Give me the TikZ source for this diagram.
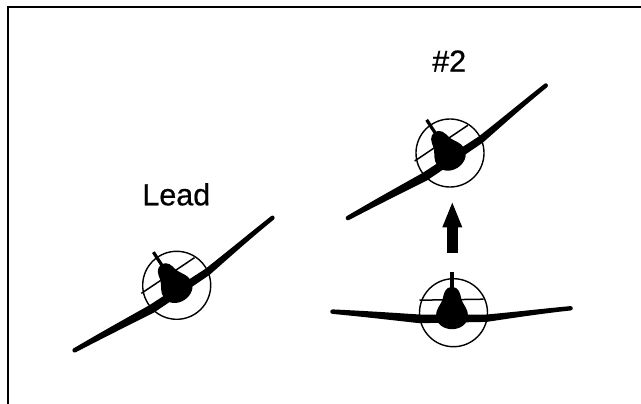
\documentclass[tikz,border=0pt]{standalone}
\usepackage{fontspec}
\newfontfamily\labelfont[FakeBold=0.6]{Liberation Sans}
\usetikzlibrary{arrows.meta}
\begin{document}
\begin{tikzpicture}[x=1pt,y=-1pt,
  ring/.style={line width=1.4pt},
  tailplane/.style={line width=1.5pt},
  fin/.style={line width=3.2pt},
  planelabel/.style={font=\labelfont\fontsize{30.5}{32}\selectfont, anchor=base, inner sep=0pt},
  framelines/.style={line width=2.2pt, line join=miter},
  bigarrow/.style={line width=10.5pt, -{Triangle[width=20pt,length=24.6pt,line width=0pt]}},
  plane/.pic={
    % gunsight ring, tailplane and fin
    \draw[ring] (0,0) circle[radius=34];
    \draw[tailplane] (-34,-12.5) -- (30,-13.5);
    \draw[fin] (-1.5,-40.5) -- (-1.5,-18);
    % wings with slight dihedral, tapering to rounded tips
    \fill (-121,-3.3) .. controls (-80,-1.4) and (-50,0.8) .. (-34,1.8)
      -- (33,1.8) .. controls (60,-0.6) and (90,-4.1) .. (117,-6.6)
      .. controls (120,-6.8) and (120,-2.4) .. (117,-2.2)
      .. controls (90,0.6) and (60,5.2) .. (33,9.2)
      -- (-34,10.5) .. controls (-60,7.6) and (-90,4.1) .. (-121,1.2)
      .. controls (-124,1.0) and (-124,-3.1) .. (-121,-3.3) -- cycle;
    % fuselage seen head-on: rounded top widening to a full lower body
    \fill (-1.5,-25.5) .. controls (5.5,-25.5) and (6.5,-20) .. (8,-13)
      .. controls (11,-6) and (14.5,-3.5) .. (14.5,3)
      .. controls (14.5,11.5) and (6.5,16.5) .. (-1.5,16.5)
      .. controls (-9.5,16.5) and (-17.5,11.5) .. (-17.5,3)
      .. controls (-17.5,-3.5) and (-14,-6) .. (-11,-13)
      .. controls (-9.5,-20) and (-8.5,-25.5) .. (-1.5,-25.5) -- cycle;
  }]
  \useasboundingbox (0,0) rectangle (641,404);

  % frame: top and left edges
  \draw[framelines] (8.3,404) -- (8.3,7.2) -- (641,7.2);

  % aircraft
  \pic[rotate=33] (lead) at (176.7,285.3) {plane};
  \pic[rotate=33] (wingman) at (450,153) {plane};
  \pic (level) at (453.5,312.7) {plane};

  % labels
  \node[planelabel] (leadlabel) at (176.3,205.3) {Lead};
  \node[planelabel] (wingmanlabel) at (449.2,71.7) {\#2};

  % movement arrow
  \coordinate (arrowtail) at (452.3,253.3);
  \coordinate (arrowtip) at (452.3,202.7);
  \draw[bigarrow] (arrowtail) -- (arrowtip);
\end{tikzpicture}
\end{document}
